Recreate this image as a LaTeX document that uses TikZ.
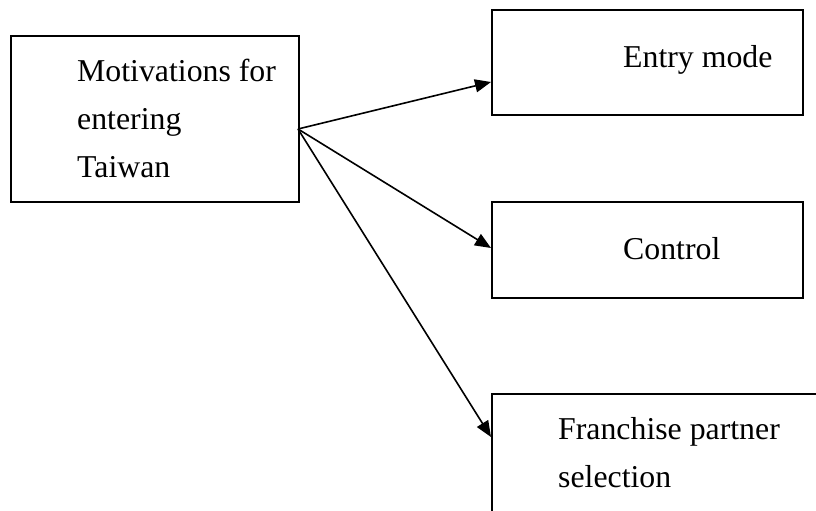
\documentclass[tikz,border=0pt]{standalone}
\usepackage{fontspec}
\setmainfont{Liberation Serif}
\usetikzlibrary{arrows.meta}
\begin{document}
\begin{tikzpicture}[x=1pt,y=-1pt,
  box/.style={draw,line width=2pt,rectangle,inner sep=0pt,anchor=north west},
  txt/.style={inner sep=0pt,anchor=base west,align=left,
    font=\fontsize{31.8}{48}\selectfont},
  link/.style={line width=1.6pt,-{Triangle[length=16pt,width=13pt]}}]
\useasboundingbox (0,0) rectangle (816,511);
\fill[white] (0,0) rectangle (816,511);
\clip (0,0) rectangle (816,511);

% boxes
\node[box,minimum width=288pt,minimum height=166pt] (mot) at (10,35) {};
\node[box,minimum width=311pt,minimum height=105pt] (entry) at (491,9) {};
\node[box,minimum width=311pt,minimum height=96pt] (ctrl) at (491,201) {};
\node[box,minimum width=360pt,minimum height=160pt] (fran) at (491,393) {};

% labels (a multi-line node sits on the baseline of its last line)
\node[txt] (motT) at (77,177) {Motivations for\\entering\\Taiwan};
\node[txt] (entryT) at (623,67) {Entry mode};
\node[txt] (ctrlT) at (623,259) {Control};
\node[txt] (franT) at (558,487) {Franchise partner\\selection};

% connector ends on the box edges
\coordinate (src) at (298,129);
\coordinate (entryIn) at (491,82);
\coordinate (ctrlIn) at (491,248);
\coordinate (franIn) at (491,437);

\draw[link] (src) -- (entryIn);
\draw[link] (src) -- (ctrlIn);
\draw[link] (src) -- (franIn);
\end{tikzpicture}
\end{document}
